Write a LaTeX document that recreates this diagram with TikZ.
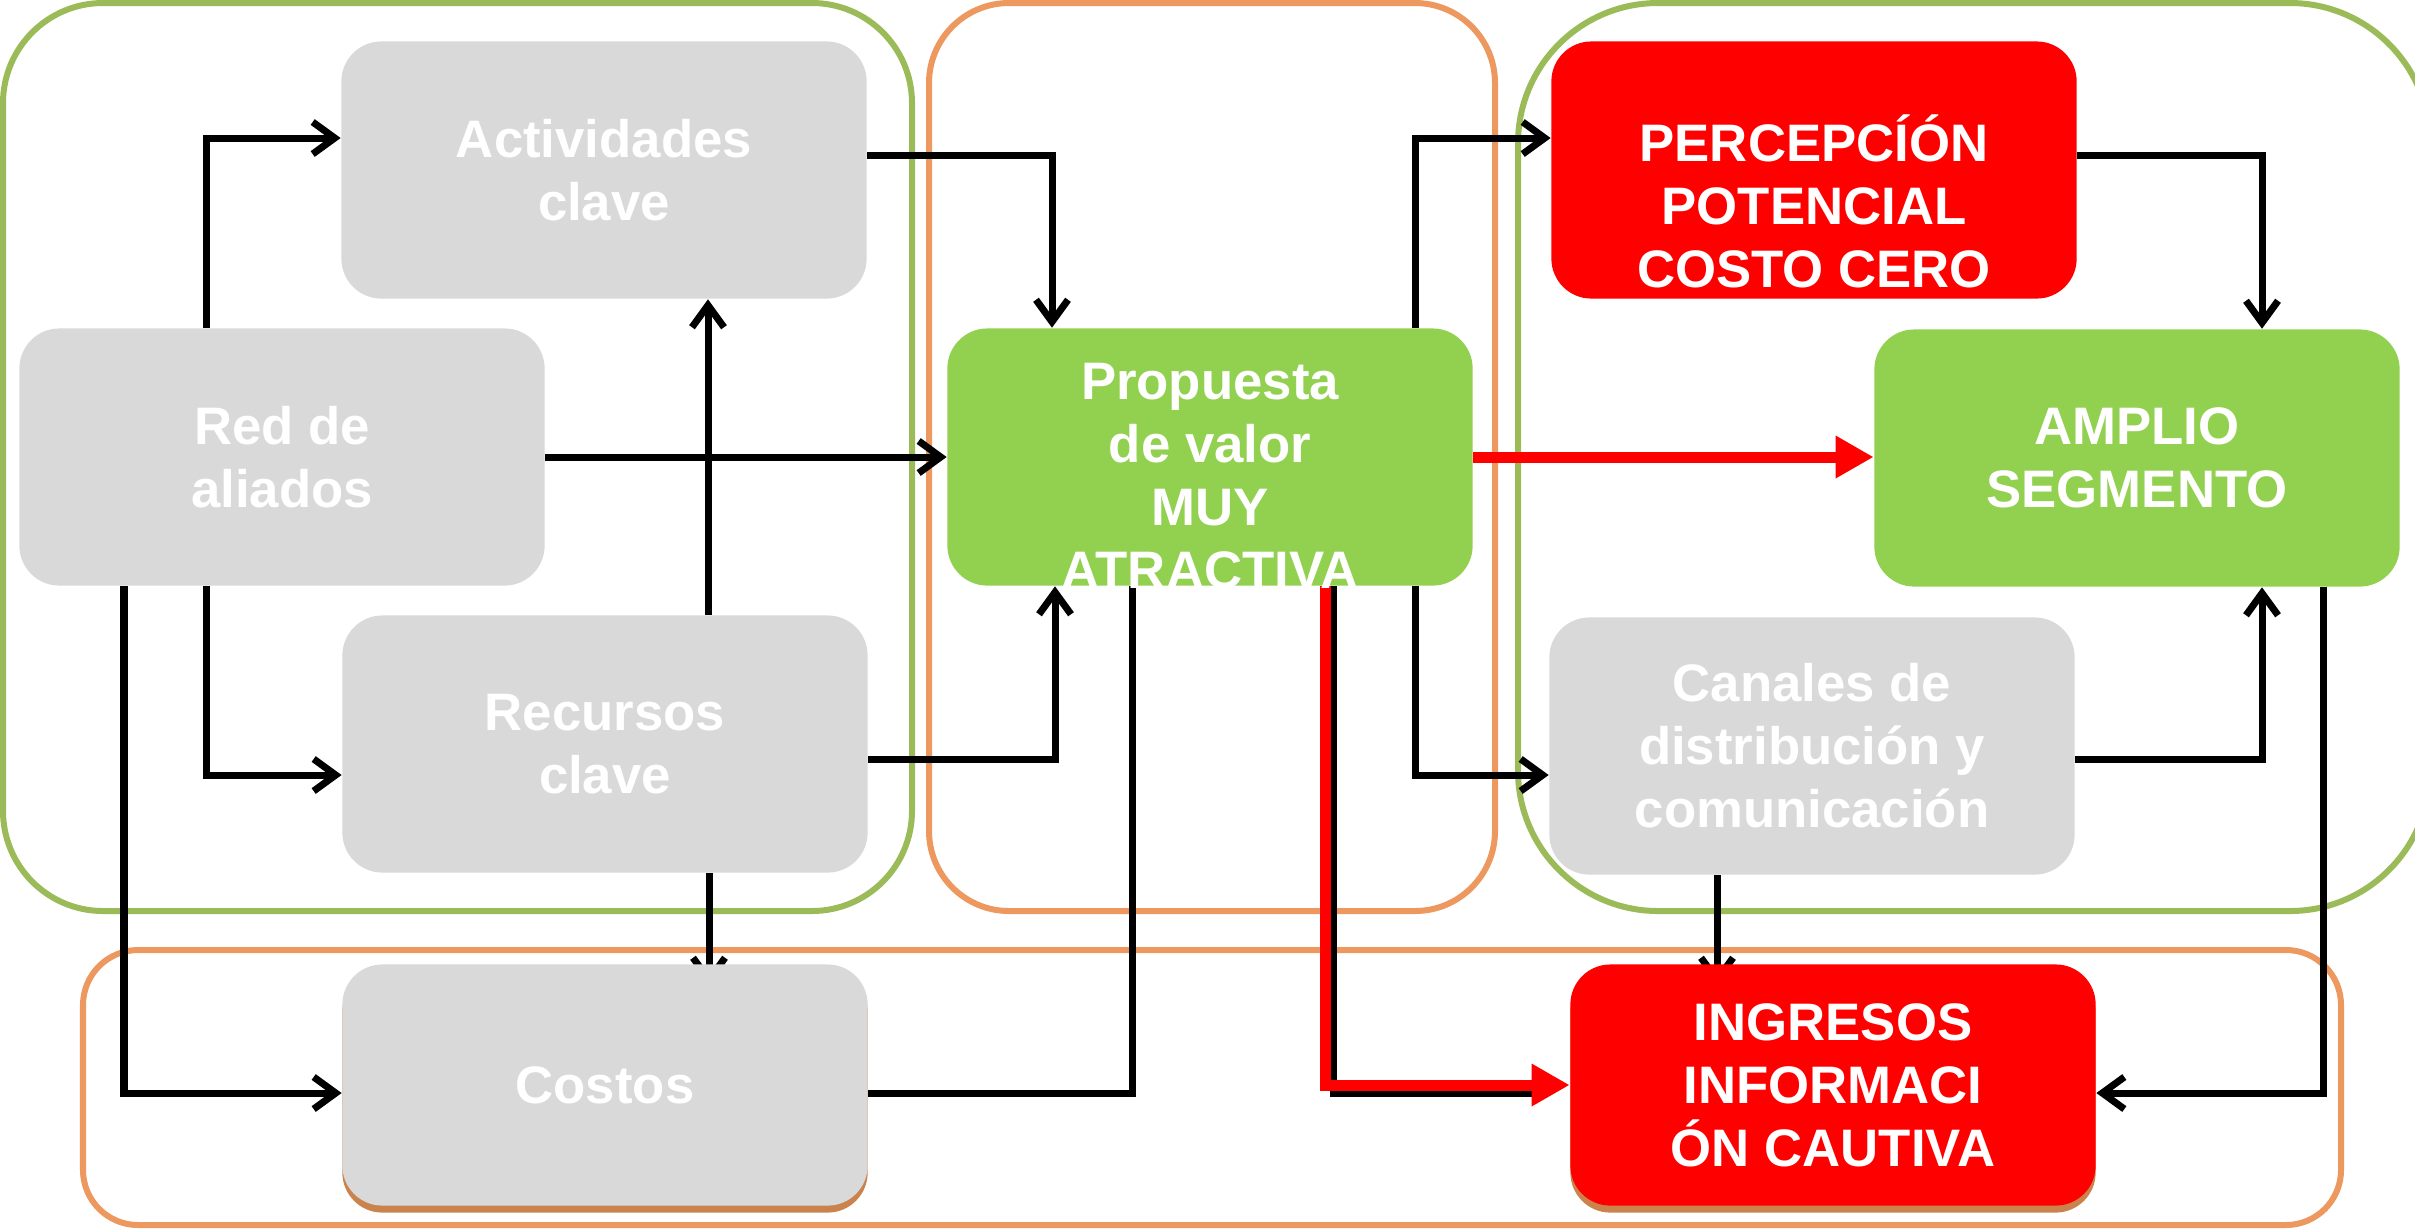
\documentclass[tikz,border=0pt]{standalone}
\usepackage{fontspec}
\setmainfont{Liberation Sans}
\usetikzlibrary{arrows.meta,calc,shadows}

\definecolor{boxgray}{HTML}{D9D9D9}
\definecolor{boxgreen}{HTML}{92D050}
\definecolor{boxred}{HTML}{FF0000}
\definecolor{grpgreen}{HTML}{9BBB59}
\definecolor{grporange}{RGB}{236,152,94}
\definecolor{shadebrown}{RGB}{196,118,58}

\pgfdeclarelayer{groups}
\pgfdeclarelayer{links}
\pgfsetlayers{groups,links,main}

\begin{document}
\begin{tikzpicture}[x=0.01cm,y=-0.01cm,
  boxfont/.style={font=\fontsize{15}{17.9}\selectfont\bfseries},
  box/.style={rounded corners=0.4cm, minimum width=5.25cm, minimum height=2.57cm,
    inner sep=0pt, align=center, text=white, boxfont},
  graybox/.style={box, fill=boxgray},
  greenbox/.style={box, fill=boxgreen},
  redbox/.style={box, fill=boxred},
  lowbox/.style={minimum height=2.41cm,
    drop shadow={shadow xshift=0cm, shadow yshift=-0.07cm, fill=shadebrown, opacity=0.9}},
  boxtext/.style={align=center, text=white, inner sep=0pt, boxfont},
  group/.style={line width=0.06cm},
  conn/.style={line width=0.07cm, -{Straight Barb[length=0.22cm,width=0.32cm]}},
  plain/.style={line width=0.07cm},
  hot/.style={draw=boxred, line width=0.11cm, -{Triangle[length=0.38cm,width=0.4cm]}}]

\useasboundingbox (0,0) rectangle (2415,1229);

% blocks
\node[graybox] (act) at (604,170) {Actividades\\clave};
\node[graybox] (red) at (282,457) {Red de\\aliados};
\node[graybox] (rec) at (605,744) {Recursos\\clave};
\node[graybox,lowbox] (cost) at (605,1085) {Costos};
\node[greenbox] (prop) at (1210,457) {};
\node[boxtext] (propt) at (1210,476) {Propuesta\\de valor\\MUY\\ATRACTIVA};
\node[redbox] (perc) at (1814,170) {};
\node[boxtext] (perct) at (1814,201) {PERCEPCÍÓN\\POTENCIAL\\COSTO CERO};
\node[greenbox] (ampl) at (2137,458) {AMPLIO\\SEGMENTO};
\node[graybox] (can) at (1812,746) {Canales de\\distribución y\\comunicación};
\node[redbox,lowbox] (ing) at (1833,1085) {INGRESOS\\INFORMACI\\ÓN CAUTIVA};

% grouping frames
\begin{pgfonlayer}{groups}
  \draw[group, draw=grpgreen, rounded corners=1cm] (3,3) rectangle (912,911);
  \draw[group, draw=grporange, rounded corners=0.8cm] (929,3) rectangle (1495,911);
  \draw[group, draw=grpgreen, rounded corners=1.4cm] (1518,3) rectangle (2430,911);
  \draw[group, draw=grporange, rounded corners=0.55cm] (83,950) rectangle (2341,1225);
\end{pgfonlayer}

% connectors
\begin{pgfonlayer}{links}
  \draw[conn] ($(red.north)+(-76,0)$) |- ($(act.west)+(0,-32)$);
  \draw[conn] ($(red.south)+(-76,0)$) |- ($(rec.west)+(0,31)$);
  \draw[conn] ($(red.south)+(-158,0)$) |- ($(cost.west)+(0,8)$);
  \draw[conn] (red.east) -- (red.east -| prop.west);
  \draw[conn] ($(rec.north)+(103,0)$) coordinate (ra) -- (ra |- act.south);
  \draw[conn] ($(rec.south)+(104,0)$) coordinate (rb) -- ($(rb |- cost.north)+(0,22)$);
  \draw[conn] ($(act.east)+(0,-15)$) -| ($(prop.north)+(-158,0)$);
  \draw[conn] ($(rec.east)+(0,15)$) -| ($(prop.south)+(-155,0)$);
  \draw[plain] ($(cost.east)+(0,8)$) -| ($(prop.south)+(-78,0)$);
  \draw[conn] ($(prop.north)+(205,0)$) |- ($(perc.west)+(0,-32)$);
  \draw[conn] ($(prop.south)+(205,0)$) |- ($(can.west)+(0,29)$);
  \draw[conn] ($(perc.east)+(0,-15)$) -| ($(ampl.north)+(125,0)$);
  \draw[conn] ($(can.east)+(0,13)$) -| ($(ampl.south)+(125,0)$);
  \draw[conn] ($(can.south)+(-95,0)$) coordinate (cb) -- ($(cb |- ing.north)+(0,22)$);
  \draw[conn] ($(ampl.south)+(186,0)$) |- ($(ing.east)+(0,8)$);
  \draw[plain] ($(prop.south)+(123,0)$) |- ($(ing.west)+(-30,8)$);
  \draw[hot] ($(prop.south)+(115,0)$) |- (ing.west);
  \draw[hot] (prop.east) -- (prop.east -| ampl.west);
\end{pgfonlayer}
\end{tikzpicture}
\end{document}
